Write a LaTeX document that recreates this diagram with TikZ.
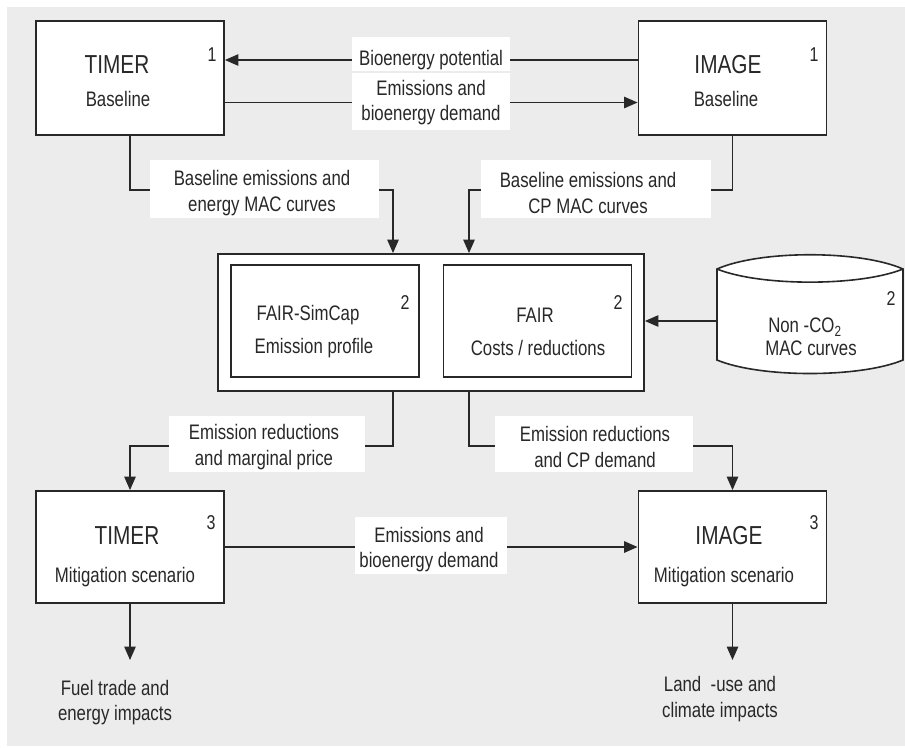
\documentclass[tikz,border=0pt]{standalone}
\usepackage{fontspec}
\setmainfont{Liberation Sans}[FakeStretch=0.8]
\usetikzlibrary{arrows.meta}
\pgfdeclarelayer{bg}
\pgfdeclarelayer{lines}
\pgfsetlayers{bg,lines,main}
\definecolor{bggray}{RGB}{236,236,236}
\definecolor{ink}{RGB}{40,40,40}
\begin{document}
\begin{tikzpicture}[x=0.75pt,y=-0.75pt,
  box/.style={draw=ink, line width=1.4pt, fill=white, minimum width=141pt, minimum height=85.5pt, inner sep=0pt},
  wbox/.style={fill=white, inner sep=0pt},
  lbl/.style={text=ink, font=\fontsize{15.75}{19}\selectfont, align=center, inner sep=0pt},
  ttl/.style={text=ink, font=\fontsize{19.5}{22}\selectfont, inner sep=0pt},
  num/.style={text=ink, font=\fontsize{15}{17}\selectfont, inner sep=0pt},
  conn/.style={draw=ink, line width=1pt},
  arr/.style={conn, -{Triangle[length=10pt,width=8.5pt]}}
]
\useasboundingbox (0,0) rectangle (905,747);
\begin{pgfonlayer}{bg}
  \fill[bggray] (7,7) rectangle (905,746);
\end{pgfonlayer}

% main boxes
\node[box] (tb) at (130,78) {};
\node[box] (ib) at (732.5,78) {};
\node[box, minimum width=319.5pt, minimum height=102.75pt] (fair) at (431,322.5) {};
\node[box, minimum height=84pt] (fs) at (325,321) {};
\node[box, minimum height=84pt] (fr) at (537.5,321) {};
\node[box, minimum height=84pt] (tm) at (130,547) {};
\node[box, minimum height=84pt] (im) at (732.5,547) {};

% cylinder (data store)
\draw[draw=ink, line width=1.2pt, fill=white]
  (717,269) .. controls (760,250) and (860,250) .. (903,269) -- (903,360)
  .. controls (860,378) and (760,378) .. (717,360) -- cycle;
\draw[draw=ink, line width=1.2pt] (717,269) .. controls (760,286.5) and (860,286.5) .. (903,269);
\coordinate (cylw) at (717,321);

% box texts
\node[ttl] (tbt) at (117,65) {TIMER};
\node[lbl] (tbs) at (118,99) {Baseline};
\node[num] (tbn) at (212,55) {1};
\node[ttl] (ibt) at (728,65) {IMAGE};
\node[lbl] (ibs) at (726,99) {Baseline};
\node[num] (ibn) at (814,55) {1};
\node[lbl] (fst) at (308,315) {FAIR-SimCap};
\node[lbl] (fss) at (314,348) {Emission profile};
\node[num] (fsn) at (405,303) {2};
\node[lbl] (frt) at (535,315) {FAIR};
\node[lbl] (frs) at (538,348) {Costs / reductions};
\node[num] (frn) at (618,303) {2};
\node[lbl] (cyt) at (805,327) {Non -CO\textsubscript{2}};
\node[lbl] (cys) at (811,348) {MAC curves};
\node[num] (cyn) at (891,299) {2};
\node[ttl] (tmt) at (127,536) {TIMER};
\node[lbl] (tms) at (125,577) {Mitigation scenario};
\node[num] (tmn) at (211,523) {3};
\node[ttl] (imt) at (729,536) {IMAGE};
\node[lbl] (ims) at (724,577) {Mitigation scenario};
\node[num] (imn) at (814,523) {3};

% label boxes
\node[wbox, minimum width=118.5pt, minimum height=25.5pt] (lbp) at (431,54) {};
\node[lbl] (lbpt) at (431,60) {Bioenergy potential};
\node[wbox, minimum width=118.5pt, minimum height=42.75pt] (lebd) at (431,101.5) {};
\node[lbl] (lebdt) at (431,102.5) {Emissions and\\bioenergy demand};
\node[wbox, minimum width=171.75pt, minimum height=43.5pt] (lbe1) at (264.5,189) {};
\node[lbl] (lbe1t) at (262,193) {Baseline emissions and\\energy MAC curves};
\node[wbox, minimum width=172.5pt, minimum height=43.5pt] (lbe2) at (596,189) {};
\node[lbl] (lbe2t) at (588,193) {Baseline emissions and\\CP MAC curves};
\node[wbox, minimum width=147pt, minimum height=42pt] (ler1) at (267,444) {};
\node[lbl] (ler1t) at (264,447) {Emission reductions\\and marginal price};
\node[wbox, minimum width=148.5pt, minimum height=42pt] (ler2) at (594,444) {};
\node[lbl] (ler2t) at (595,447) {Emission reductions\\and CP demand};
\node[wbox, minimum width=114pt, minimum height=42.75pt] (lmid) at (431,545.5) {};
\node[lbl] (lmidt) at (429,549.5) {Emissions and\\bioenergy demand};

% outputs
\node[lbl] (fuel) at (115,702.5) {Fuel trade and\\energy impacts};
\node[lbl] (land) at (720,699) {Land \ -use and\\climate impacts};

% routing points
\coordinate (j1) at (393,190);
\coordinate (j2) at (469,190);
\coordinate (j3) at (393,446);
\coordinate (j4) at (469,446);
\coordinate (e1) at (130,660);
\coordinate (e2) at (732.5,660);

\begin{pgfonlayer}{lines}
  \draw[arr] (ib.west |- lbpt) -- (tb.east |- lbpt);
  \draw[arr] (tb.east |- lebdt) -- (ib.west |- lebdt);
  \draw[arr] (tb.south) |- (j1) -- (j1 |- fair.north);
  \draw[arr] (ib.south) |- (j2) -- (j2 |- fair.north);
  \draw[arr] (cylw) -- (fair.east |- cylw);
  \draw[arr] (j3 |- fair.south) -- (j3) -| (tm.north);
  \draw[arr] (j4 |- fair.south) -- (j4) -| (im.north);
  \draw[arr] (tm.east) -- (im.west);
  \draw[arr] (tm.south) -- (e1);
  \draw[arr] (im.south) -- (e2);
\end{pgfonlayer}
\end{tikzpicture}
\end{document}
